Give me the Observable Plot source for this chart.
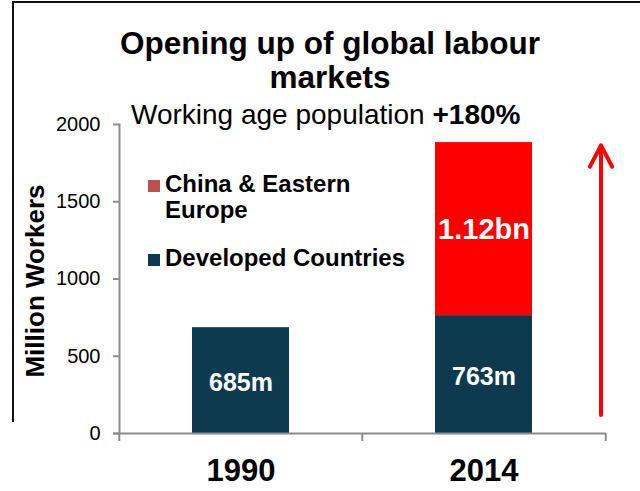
<!DOCTYPE html>
<html>
<head>
<meta charset="utf-8">
<script src="https://cdn.jsdelivr.net/npm/d3@7"></script>
<script src="https://cdn.jsdelivr.net/npm/@observablehq/plot@0.6"></script>
<style>
  html, body { margin: 0; padding: 0; background: #fff; }
  body { font-family: "Liberation Sans", Arial, sans-serif; }
  #wrap { position: relative; width: 640px; height: 491px; overflow: hidden; }
  #wrap svg { position: absolute; left: 0; top: 0; }
  .abs { position: absolute; white-space: nowrap; color: #000; }
  #frame { position: absolute; left: 12px; top: 1px; width: 640px; height: 421px;
           border-left: 2.5px solid #111; border-top: 2.5px solid #111; box-sizing: border-box; }
  #title { left: 0; width: 660px; top: 26px; text-align: center; font-size: 31.5px; font-weight: bold; line-height: 34px; }
  #subtitle { left: 131px; top: 99px; font-size: 28px; }
  .leg { position: absolute; font-size: 24px; font-weight: bold; line-height: 26px; white-space: nowrap; }
  .sw { position: absolute; width: 12px; height: 12px; }
</style>
</head>
<body>
<div id="wrap">
  <div id="frame"></div>
</div>
<script>
// ---- data ----
const years = ["1990", "2014"];
const seriesNames = ["Developed Countries", "China & Eastern Europe"];
const developed = [685, 763];
const chinaEE = [0, 1120];
const developedLabels = ["685m", "763m"];
const chinaLabels = ["", "1.12bn"];
const yTicks = [0, 500, 1000, 1500, 2000];
const arrowSpan = [120, 1865];
const titleText = "Opening up of global labour markets";
const subtitleText = "Working age population";
const subtitleBold = "+180%";
const yLabel = "Million Workers";

const barColors = ["#0E3A50", "#FF0000"];
const legendColors = ["#0E3A50", "#C0504D"];

const rows = [];
years.forEach((yr, i) => {
  rows.push({year: yr, series: seriesNames[0], value: developed[i], base: 0, label: developedLabels[i], big: false});
  rows.push({year: yr, series: seriesNames[1], value: chinaEE[i], base: developed[i], label: chinaLabels[i], big: true});
});

const W = 640, H = 491;
const mL = 119, mR = 34, mT = 124, mB = 58;
const step = (W - mL - mR) / 2;

const chart = Plot.plot({
  width: W, height: H,
  marginLeft: mL, marginRight: mR, marginTop: mT, marginBottom: mB,
  style: {fontFamily: "'Liberation Sans', Arial, sans-serif", background: "transparent", overflow: "visible"},
  x: {domain: years, paddingInner: 0.6, paddingOuter: 0.3, axis: null},
  y: {domain: [0, 2000], axis: null},
  color: {domain: seriesNames, range: barColors},
  marks: [
    Plot.barY(rows, {x: "year", y: "value", fill: "series", order: seriesNames}),
    Plot.text(rows.filter(d => d.label && !d.big), {
      x: "year", y: d => d.base + d.value / 2, text: "label",
      fill: "white", fontSize: 25, fontWeight: "bold", dy: 2
    }),
    Plot.text(rows.filter(d => d.label && d.big), {
      x: "year", y: d => d.base + d.value / 2, text: "label",
      fill: "white", fontSize: 29, fontWeight: "bold", dy: 1
    }),
    // y axis
    Plot.axisY({ticks: yTicks, tickFormat: d => String(d), tickSize: 6, tickPadding: 13, stroke: "#8c8c8c", strokeWidth: 2, fontSize: 20, label: null}),
    Plot.frame({anchor: "left", stroke: "#8c8c8c", strokeWidth: 2}),
    // x axis line
    Plot.ruleY([0], {stroke: "#8c8c8c", strokeWidth: 2, insetLeft: -6}),
    // category boundary ticks
    Plot.ruleX(years, {x: d => d, dx: -step / 2, y1: 0, y2: 0, insetBottom: -8, stroke: "#8c8c8c", strokeWidth: 2}),
    Plot.ruleX(years.slice(-1), {x: d => d, dx: step / 2, y1: 0, y2: 0, insetBottom: -8, stroke: "#8c8c8c", strokeWidth: 2}),
    Plot.axisX({tickSize: 0, tickPadding: 25, fontSize: 31, fontWeight: "bold", label: null}),
    // arrow
    Plot.arrow([arrowSpan], {x: () => "2014", y1: d => d[0], y2: d => d[1], dx: 117, stroke: "#FF0000", strokeWidth: 4, headLength: 9, headAngle: 55})
  ]
});

const wrap = document.getElementById("wrap");
wrap.insertBefore(chart, wrap.firstChild);

function addDiv(cls, id, html, styles) {
  const d = document.createElement("div");
  if (cls) d.className = cls;
  if (id) d.id = id;
  d.innerHTML = html;
  Object.assign(d.style, styles || {});
  wrap.appendChild(d);
  return d;
}
const tParts = titleText.split(" ");
addDiv("abs", "title", tParts.slice(0, 5).join(" ") + "<br>" + tParts.slice(5).join(" "));
addDiv("abs", "subtitle", subtitleText + " <b>" + subtitleBold + "</b>");
// y label
addDiv("abs", null, yLabel, {left: "35px", top: "281px", fontSize: "26px", fontWeight: "bold",
  transform: "translate(-50%, -50%) rotate(-90deg)"});
// legend
addDiv("sw", null, "", {left: "148px", top: "180px", background: legendColors[1]});
addDiv("leg", null, "China &amp; Eastern<br>Europe", {left: "165px", top: "171px"});
addDiv("sw", null, "", {left: "148px", top: "254px", background: legendColors[0]});
addDiv("leg", null, seriesNames[0], {left: "165px", top: "245px"});
</script>
</body>
</html>
